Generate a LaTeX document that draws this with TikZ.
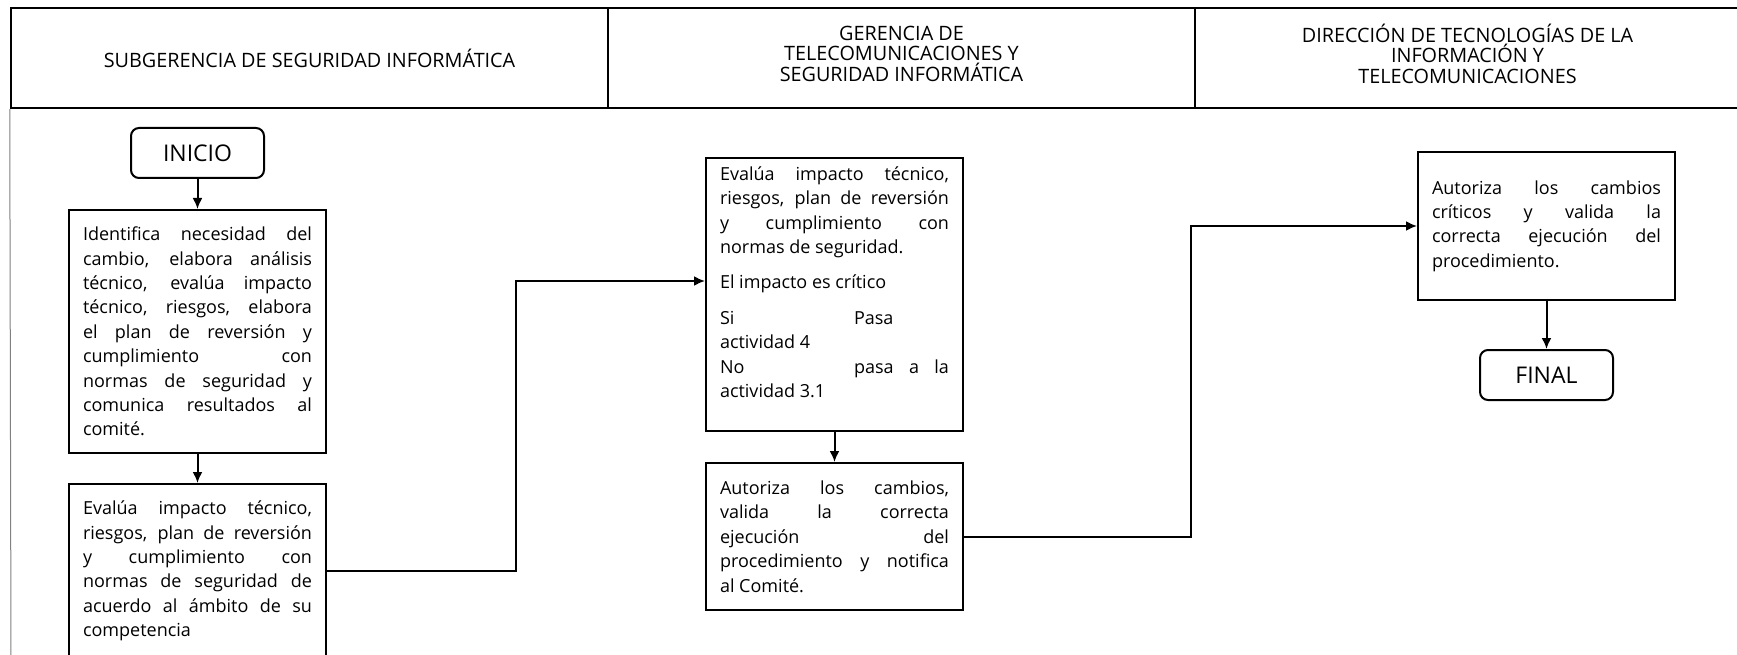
\documentclass[tikz,border=0pt]{standalone}
\usepackage{fontspec}
\setmainfont{Open Sans}
\usetikzlibrary{arrows.meta,positioning}
\tikzset{%
	terminal/.style = {draw, rectangle, rounded corners=8pt, line width=2pt, minimum width=133pt, minimum height=50pt, font=\fontsize{23}{27}\selectfont},
	activity/.style = {draw, rectangle, line width=2pt, minimum width=257pt, text width=229pt, inner xsep=13pt, inner ysep=4pt, align=justify, font=\fontsize{18}{24.4}\selectfont, execute at begin node={\tolerance=10000\hyphenpenalty=10000}},
	lane/.style     = {draw, rectangle, line width=2.5pt, minimum height=100pt, align=center, font=\fontsize{19.8}{20.5}\selectfont},
	flow/.style     = {line width=2pt, -{Latex[length=11pt,width=10pt]}},
}
\begin{document}
\begin{tikzpicture}[x=1pt,y=-1pt]
	\useasboundingbox (0,0) rectangle (1737,655);
	% lanes
	\node[lane, minimum width=597pt] (lane1) at (309.5,58) {SUBGERENCIA DE SEGURIDAD INFORMÁTICA};
	\node[lane, minimum width=587pt, text depth=9pt] (lane2) at (901.5,58) {GERENCIA DE\\TELECOMUNICACIONES Y\\SEGURIDAD INFORMÁTICA};
	\node[lane, minimum width=545pt, text depth=9pt] (lane3) at (1467.5,58) {DIRECCIÓN DE TECNOLOGÍAS DE LA\\INFORMACIÓN Y\\TELECOMUNICACIONES};
	\draw[gray, line width=1pt] (lane1.south west) -- (11,660);
	
	% activities
	\node[terminal] (inicio) at (197.5,153) {INICIO};
	\node[activity, minimum height=243pt] (act1) at (197.5,331.5) {Identifica necesidad del\linebreak cambio, elabora análisis\linebreak técnico, evalúa impacto\linebreak técnico, riesgos, elabora\linebreak el plan de reversión y\linebreak cumplimiento con\linebreak normas de seguridad y\linebreak comunica resultados al\linebreak comité.};
	\node[activity, minimum height=174pt] (act2) at (197.5,571) {Evalúa impacto técnico,\linebreak riesgos, plan de reversión\linebreak y cumplimiento con\linebreak normas de seguridad de\linebreak acuerdo al ámbito de su\linebreak competencia};
	\node[activity, minimum height=273pt] (act3) at (834.5,294.5) {Evalúa impacto técnico,\linebreak riesgos, plan de reversión\linebreak y cumplimiento con\linebreak normas de seguridad.\par\vspace{10pt}El impacto es crítico\par\vspace{12pt}\makebox[134pt][l]{Si}Pasa\\actividad 4\\\makebox[134pt][l]{No}pasa a la\linebreak actividad 3.1\par\mbox{}};
	\node[activity, minimum height=147pt] (act4) at (834.5,536.5) {Autoriza los cambios,\linebreak valida la correcta\linebreak ejecución del\linebreak procedimiento y notifica\linebreak al Comité.};
	\node[activity, minimum height=148pt] (act5) at (1546.5,226) {Autoriza los cambios\linebreak críticos y valida la\linebreak correcta ejecución del\linebreak procedimiento.};
	\node[terminal] (final) at (1546.5,375) {FINAL};
	
	% connectors
	\coordinate (bend1) at (516,281);
	\coordinate (bend2) at (1191,226);
	\draw[flow] (inicio) -- (act1);
	\draw[flow] (act1) -- (act2);
	\draw[flow] (act2.east) -| (bend1) -- (act3.west |- bend1);
	\draw[flow] (act3) -- (act4);
	\draw[flow] (act4.east) -| (bend2) -- (act5.west |- bend2);
	\draw[flow] (act5) -- (final);
\end{tikzpicture}
\end{document}
